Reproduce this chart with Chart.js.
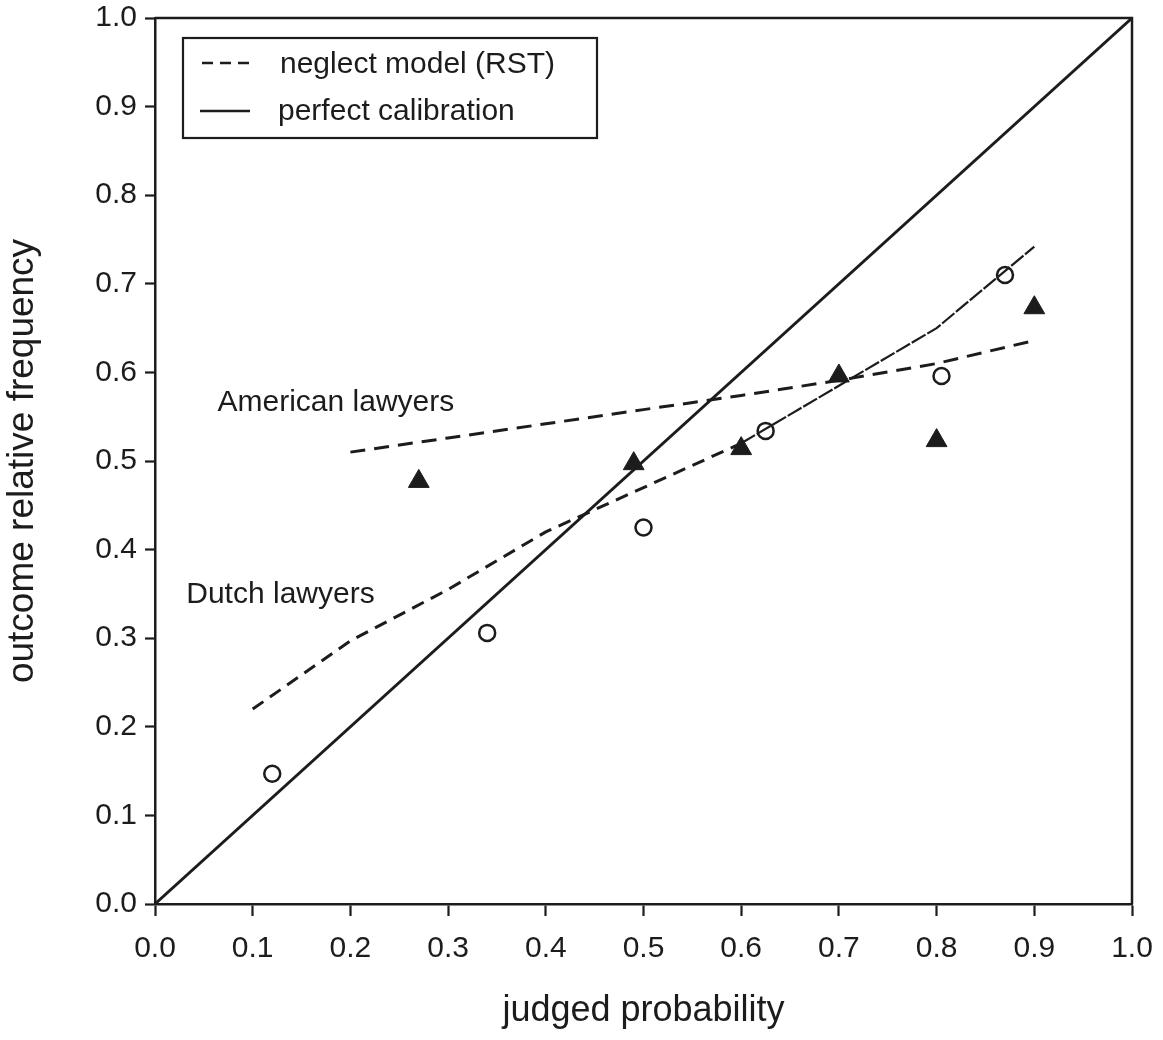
<!DOCTYPE html>
<html>
<head>
<meta charset="utf-8">
<script src="https://cdn.jsdelivr.net/npm/chart.js@4.4.1/dist/chart.umd.min.js"></script>
<style>
  html, body { margin: 0; padding: 0; background: #ffffff; }
  #wrap { width: 1163px; height: 1040px; position: relative; }
</style>
</head>
<body>
<div id="wrap"><canvas id="c" width="1163" height="1040"></canvas></div>
<script>
// Axis ticks (both axes run 0.0 .. 1.0)
const tickValues = [0.0, 0.1, 0.2, 0.3, 0.4, 0.5, 0.6, 0.7, 0.8, 0.9, 1.0];

// Observed calibration points
const dutchX = [0.12, 0.34, 0.50, 0.625, 0.805, 0.87];
const dutchY = [0.147, 0.306, 0.425, 0.534, 0.596, 0.710];
const americanX = [0.27, 0.49, 0.60, 0.70, 0.80, 0.90];
const americanY = [0.477, 0.497, 0.514, 0.596, 0.523, 0.673];

// Neglect model (RST) predictions
const dutchModelX = [0.1, 0.2, 0.3, 0.4, 0.5, 0.6, 0.7, 0.8, 0.9];
const dutchModelY = [0.22, 0.297, 0.355, 0.42, 0.47, 0.52, 0.585, 0.65, 0.742];
const americanModelX = [0.2, 0.3, 0.4, 0.5, 0.6, 0.7, 0.8, 0.9];
const americanModelY = [0.51, 0.526, 0.542, 0.558, 0.574, 0.591, 0.61, 0.636];

// Perfect calibration diagonal
const calibrationX = [0.0, 1.0];
const calibrationY = [0.0, 1.0];

const INK = '#1c1c1c';
const FONT = '"Liberation Sans", Arial, Helvetica, sans-serif';

const pts = (xs, ys) => xs.map((x, i) => ({ x, y: ys[i] }));

// Group labels placed in data coordinates (left end of the text baseline)
const groupLabels = [
  { text: 'American lawyers', x: 0.064, y: 0.556 },
  { text: 'Dutch lawyers', x: 0.032, y: 0.340 }
];

// Closes the frame along the top and right edges
const framePlugin = {
  id: 'frame',
  afterDatasetsDraw(chart) {
    const { ctx, chartArea: a } = chart;
    ctx.save();
    ctx.strokeStyle = INK;
    ctx.lineWidth = 2.5;
    ctx.beginPath();
    ctx.moveTo(a.left, a.top);
    ctx.lineTo(a.right, a.top);
    ctx.lineTo(a.right, a.bottom);
    ctx.stroke();
    ctx.restore();
  }
};

// Text labels for the two groups
const groupLabelPlugin = {
  id: 'groupLabels',
  afterDatasetsDraw(chart) {
    const { ctx, scales: { x, y } } = chart;
    ctx.save();
    ctx.fillStyle = INK;
    ctx.font = '30px ' + FONT;
    ctx.textAlign = 'left';
    ctx.textBaseline = 'alphabetic';
    groupLabels.forEach(l => ctx.fillText(l.text, x.getPixelForValue(l.x), y.getPixelForValue(l.y)));
    ctx.restore();
  }
};

// Boxed key in the upper-left corner of the plot
const keyPlugin = {
  id: 'key',
  afterDraw(chart) {
    const { ctx, chartArea: a } = chart;
    const left = a.left + 28, top = a.top + 20, w = 414, h = 100;
    ctx.save();
    ctx.fillStyle = '#ffffff';
    ctx.fillRect(left, top, w, h);
    ctx.strokeStyle = INK;
    ctx.lineWidth = 2.2;
    ctx.strokeRect(left, top, w, h);
    ctx.lineWidth = 2.5;
    // dashed sample
    ctx.setLineDash([11, 7]);
    ctx.beginPath();
    ctx.moveTo(left + 19, top + 25);
    ctx.lineTo(left + 67, top + 25);
    ctx.stroke();
    // solid sample
    ctx.setLineDash([]);
    ctx.beginPath();
    ctx.moveTo(left + 17, top + 73);
    ctx.lineTo(left + 67, top + 73);
    ctx.stroke();
    ctx.fillStyle = INK;
    ctx.font = '30px ' + FONT;
    ctx.textBaseline = 'alphabetic';
    ctx.fillText('neglect model (RST)', left + 97, top + 35);
    ctx.fillText('perfect calibration', left + 95, top + 82);
    ctx.restore();
  }
};

new Chart(document.getElementById('c'), {
  type: 'scatter',
  data: {
    datasets: [
      {
        label: 'Dutch lawyers',
        data: pts(dutchX, dutchY),
        pointStyle: 'circle',
        pointRadius: 8,
        pointBorderWidth: 2.5,
        pointBackgroundColor: 'rgba(0,0,0,0)',
        pointBorderColor: INK,
        showLine: false
      },
      {
        label: 'American lawyers',
        data: pts(americanX, americanY),
        pointStyle: 'triangle',
        pointRadius: 12,
        pointBorderWidth: 1,
        pointBackgroundColor: INK,
        pointBorderColor: INK,
        showLine: false
      },
      {
        label: 'neglect model (RST), American',
        data: pts(americanModelX, americanModelY),
        showLine: true,
        borderColor: INK,
        borderWidth: 3,
        borderDash: [15, 9],
        pointRadius: 0,
        tension: 0
      },
      {
        label: 'neglect model (RST), Dutch',
        data: pts(dutchModelX, dutchModelY),
        showLine: true,
        borderColor: INK,
        borderWidth: 3,
        borderDash: [13, 8],
        pointRadius: 0,
        tension: 0,
        segment: {
          borderWidth: c => (c.p0.parsed.x >= 0.6 ? 2.2 : 3),
          borderDash: c => (c.p0.parsed.x >= 0.6 ? [16, 2] : [13, 8])
        }
      },
      {
        label: 'perfect calibration',
        data: pts(calibrationX, calibrationY),
        showLine: true,
        borderColor: INK,
        borderWidth: 2.8,
        pointRadius: 0,
        tension: 0
      }
    ]
  },
  options: {
    responsive: false,
    animation: false,
    devicePixelRatio: 1,
    layout: { padding: { left: 0, top: 18, right: 31, bottom: 0 } },
    plugins: { legend: { display: false }, tooltip: { enabled: false } },
    scales: {
      x: {
        type: 'linear',
        min: 0, max: 1,
        afterFit(s) { s.height = 136; s.paddingLeft = 0; s.paddingRight = 0; },
        afterBuildTicks(s) { s.ticks = tickValues.map(v => ({ value: v })); },
        ticks: {
          color: INK,
          font: { family: FONT, size: 30, lineHeight: 1 },
          padding: 18,
          callback: v => v.toFixed(1)
        },
        grid: { display: true, drawOnChartArea: false, drawTicks: true, tickLength: 12, tickWidth: 2.2, tickColor: INK },
        border: { display: true, color: INK, width: 2.5 },
        title: {
          display: true,
          text: 'judged probability',
          color: INK,
          font: { family: FONT, size: 36, lineHeight: 1 },
          padding: { top: 0, bottom: 11 }
        }
      },
      y: {
        type: 'linear',
        min: 0, max: 1,
        afterFit(s) { s.width = 155; s.paddingTop = 0; s.paddingBottom = 0; },
        afterBuildTicks(s) { s.ticks = tickValues.map(v => ({ value: v })); },
        ticks: {
          color: INK,
          font: { family: FONT, size: 30, lineHeight: 1 },
          padding: 8,
          callback: v => v.toFixed(1)
        },
        grid: { display: true, drawOnChartArea: false, drawTicks: true, tickLength: 10, tickWidth: 2.2, tickColor: INK },
        border: { display: true, color: INK, width: 2.5 },
        title: {
          display: true,
          text: 'outcome relative frequency',
          color: INK,
          font: { family: FONT, size: 37, lineHeight: 1 },
          padding: { top: 4, bottom: 0 }
        }
      }
    }
  },
  plugins: [framePlugin, groupLabelPlugin, keyPlugin]
});
</script>
</body>
</html>
